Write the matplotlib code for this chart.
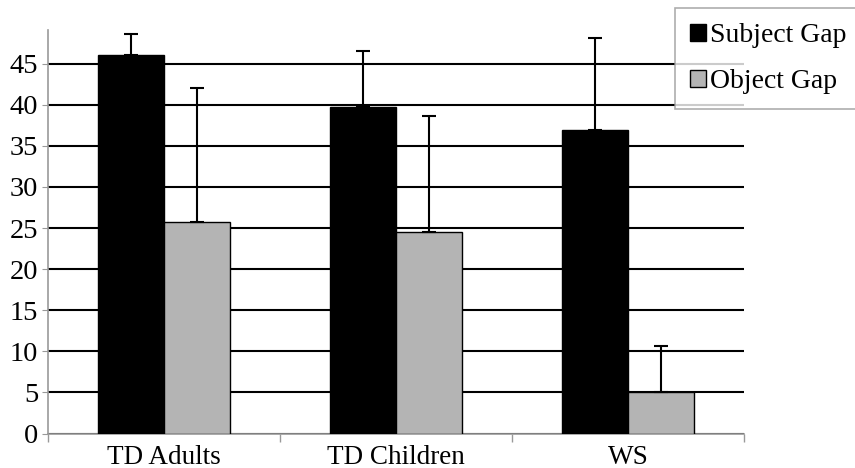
import numpy as np
import matplotlib.pyplot as plt

plt.rcParams['font.family'] = ['Liberation Serif', 'DejaVu Serif']

# data
groups = ["TD Adults", "TD Children", "WS"]
subject_gap = [46.0, 39.7, 36.9]
subject_err = [2.6, 6.8, 11.2]
object_gap = [25.7, 24.5, 5.1]
object_err = [16.4, 14.1, 5.5]
yticks = [0, 5, 10, 15, 20, 25, 30, 35, 40, 45]

fig = plt.figure(figsize=(8.55, 4.68), dpi=100)
ax = fig.add_axes([48 / 855, 1 - 433.5 / 468, (744 - 48) / 855, (433.5 - 30) / 468])

x = np.arange(len(groups))
w = 0.285
zeros = [0] * len(groups)

ax.bar(x - w / 2, subject_gap, w, color="black", edgecolor="black", linewidth=1,
       yerr=[zeros, subject_err], capsize=5, error_kw=dict(elinewidth=1.5, capthick=1.5, ecolor="black"),
       zorder=3, label="Subject Gap")
ax.bar(x + w / 2, object_gap, w, color="#b4b4b4", edgecolor="black", linewidth=1,
       yerr=[zeros, object_err], capsize=5, error_kw=dict(elinewidth=1.5, capthick=1.5, ecolor="black"),
       zorder=3, label="Object Gap")

ax.set_xlim(-0.5, len(groups) - 0.5)
ax.set_ylim(0, 49.1)
ax.set_yticks(yticks)
ax.yaxis.grid(True, color="black", linewidth=1.5)
ax.set_axisbelow(True)

# category labels in the middle, ticks on the boundaries
ax.set_xticks(x)
ax.set_xticklabels(groups, fontsize=19.5)
ax.tick_params(axis="x", length=0, pad=8)
ax.set_xticks(np.arange(len(groups) + 1) - 0.5, minor=True)
ax.tick_params(axis="x", which="minor", length=6, color="#999999", width=1)
ax.tick_params(axis="y", labelsize=20.5, length=4, color="#999999", pad=3)

for s in ["top", "right"]:
    ax.spines[s].set_visible(False)
for s in ["left", "bottom"]:
    ax.spines[s].set_color("#999999")
    ax.spines[s].set_linewidth(1.2)

leg = fig.legend(loc="upper left", bbox_to_anchor=(675 / 855, 1 - 8 / 468), fontsize=20,
                 frameon=True, fancybox=False, handlelength=0.55, handleheight=0.55,
                 handletextpad=0.15, borderpad=0.55, labelspacing=0.75, borderaxespad=0)
leg.get_frame().set_edgecolor("#999999")
leg.get_frame().set_linewidth(1.2)
leg.set_zorder(10)

fig.savefig("out.png", dpi=100)
